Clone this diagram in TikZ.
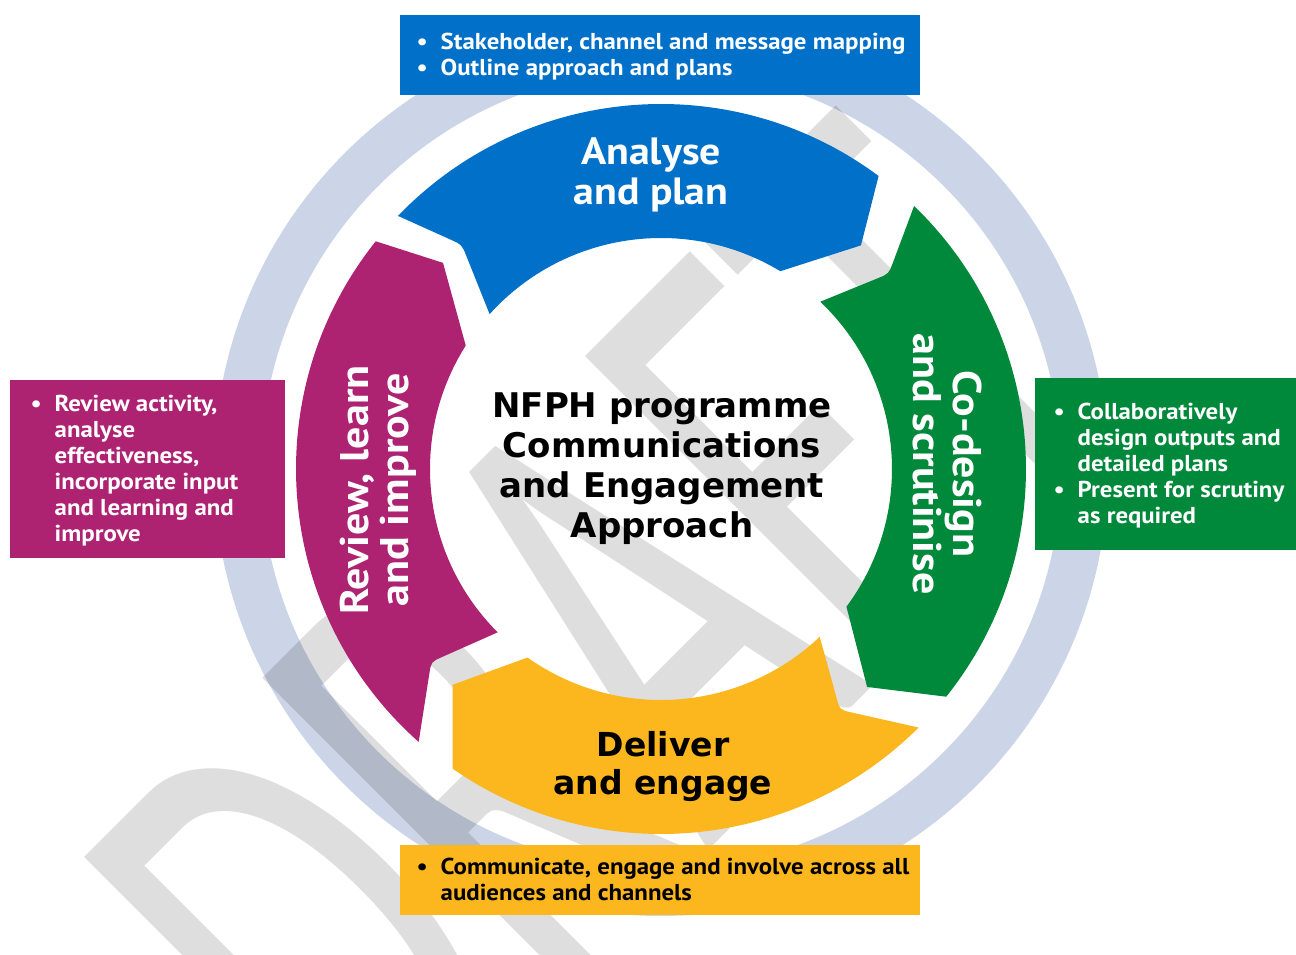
\documentclass[tikz,border=0pt]{standalone}
\usepackage{fontspec}
\setmainfont{PT Sans}[FakeStretch=1.08]
\newfontfamily\stagefont{PT Sans}[FakeStretch=1.1]
\newfontfamily\titlefont{DejaVu Sans}
\newfontfamily\draftfont{Carlito}[FakeStretch=0.6]
\usetikzlibrary{positioning,calc}

\definecolor{planblue}{RGB}{0,112,201}
\definecolor{designgreen}{RGB}{0,136,59}
\definecolor{deliveryellow}{RGB}{252,183,30}
\definecolor{reviewpurple}{RGB}{173,35,114}
\definecolor{ringgrey}{RGB}{204,213,231}
\definecolor{draftgrey}{RGB}{222,222,222}

% radii of the stage arrows
\newcommand\arcout{365}
\newcommand\arcin{231}
\newcommand\arcmid{300}

% one stage arrow, running clockwise
% #1 colour, #2-#4 tail outer/inner/notch angle, #5-#7 head outer/tip/inner angle
\newcommand\stagearrow[7]{%
	\path (#2:\arcout) coordinate (o) (#3:\arcin) coordinate (i) (#4:\arcmid) coordinate (n);
	\fill[#1] (o) arc[start angle=#2, end angle=#5, radius=\arcout]
		-- (#6:\arcmid) -- (#7:\arcin) arc[start angle=#7, end angle=#3, radius=\arcin]
		-- ($(n)!12pt!(i)$) .. controls (n) .. ($(n)!12pt!(o)$) -- cycle;
}

% bullet list for the side boxes
\newcommand\bulletlist[1]{\begin{tabular}{@{}p{24pt}@{}l@{}}#1\end{tabular}}

\begin{document}
\begin{tikzpicture}[x=1pt, y=1pt,
	stage/.style={font=\stagefont\bfseries\fontsize{40}{40}\selectfont, align=center, inner sep=0pt},
	infobox/.style={anchor=north west, inner sep=0pt},
	infotext/.style={font=\bfseries\fontsize{23}{26}\selectfont, inner sep=0pt, anchor=west, yshift=-2pt},
]
	\useasboundingbox (-661,-486) rectangle (635,469);
	\fill[white] (-661,-486) rectangle (635,469);

	%% ring behind the cycle
	\fill[ringgrey, even odd rule] (0,0) circle[radius=447] (0,0) circle[radius=400];

	%% watermark
	\begin{scope}[blend mode=multiply]
		\node[font=\draftfont\fontsize{680}{680}\selectfont, text=draftgrey, rotate=45, inner sep=0pt] (draft) at (-54.6,-174.8) {DRAFT};
	\end{scope}

	%% the four stages
	\stagearrow{planblue}{136.1}{137.9}{131.6}{53.4}{48.2}{58.9}
	\stagearrow{designgreen}{46.1}{46.4}{40.6}{-38.6}{-46.6}{-36.6}
	\stagearrow{deliveryellow}{-45.1}{-46.6}{-53.4}{-124.8}{-134}{-125.3}
	\stagearrow{reviewpurple}{228.4}{225}{220}{141.4}{136.6}{147.7}

	\node[stage, font=\stagefont\bfseries\fontsize{38}{40}\selectfont, text=white] (analyse) at (-10,294) {Analyse\\and plan};
	\node[stage, text=white, rotate=-90] (codesign) at (286,5) {Co-design\\and scrutinise};
	\node[stage, font=\titlefont\bfseries\fontsize{33}{38}\selectfont] (deliver) at (2,-298) {Deliver\\and engage};
	\node[stage, text=white, rotate=90] (review) at (-283,-21) {Review, learn\\and improve};

	\node[font=\titlefont\bfseries\fontsize{34}{40}\selectfont, align=center, inner sep=0pt] (approach) at (1,0)
		{NFPH programme\\Communications\\and Engagement\\Approach};

	%% boxes round the outside
	\node[infobox, fill=planblue, minimum width=520, minimum height=80] (planbox) at (-261,454) {};
	\node[infotext, text=white, right=16.5pt of planbox.west] (plantext) {\bulletlist{
		\textbullet & Stakeholder, channel and message mapping\\
		\textbullet & Outline approach and plans}};

	\node[infobox, fill=designgreen, minimum width=280, minimum height=172] (designbox) at (374,91) {};
	\node[infotext, text=white, right=18.5pt of designbox.west] (designtext) {\bulletlist{
		\textbullet & Collaboratively\\
		& design outputs and\\
		& detailed plans\\
		\textbullet & Present for scrutiny\\
		& as required}};

	\node[infobox, fill=deliveryellow, minimum width=520, minimum height=70] (deliverbox) at (-261,-376) {};
	\node[infotext, right=16.5pt of deliverbox.west] (delivertext) {\bulletlist{
		\textbullet & Communicate, engage and involve across all\\
		& audiences and channels}};

	\node[infobox, fill=reviewpurple, minimum width=275, minimum height=178] (reviewbox) at (-651,89) {};
	\node[infotext, text=white, right=20.5pt of reviewbox.west] (reviewtext) {\bulletlist{
		\textbullet & Review activity,\\
		& analyse\\
		& effectiveness,\\
		& incorporate input\\
		& and learning and\\
		& improve}};
\end{tikzpicture}
\end{document}
